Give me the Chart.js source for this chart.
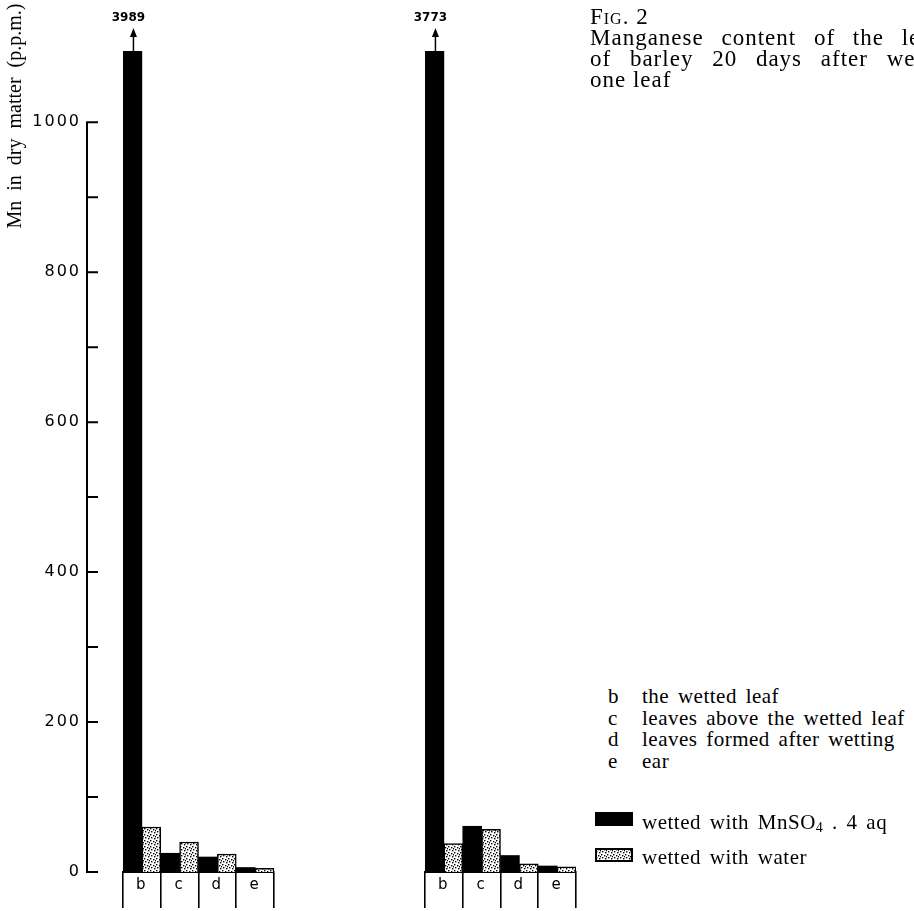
<!DOCTYPE html>
<html>
<head>
<meta charset="utf-8">
<script src="https://cdn.jsdelivr.net/npm/chart.js@4.4.1/dist/chart.umd.min.js"></script>
<style>
    html, body { margin: 0; padding: 0; background: #fff; }
    body { width: 914px; height: 911px; position: relative; overflow: hidden; }
    canvas { position: absolute; top: 0; }
    #plantA { left: 0; }
    #plantB { left: 400px; }
    .serif { font-family: "Liberation Serif", "Times New Roman", serif; color: #000; position: absolute; white-space: nowrap; }
    #caption { left: 590px; top: 6px; font-size: 23px; line-height: 21px; letter-spacing: 1px; }
    #caption .fig { font-variant: small-caps; }
    #caption .just1 { word-spacing: 11px; }
    #caption .just2 { word-spacing: 12px; }
    #keys { left: 608px; top: 686px; font-size: 21px; line-height: 21.5px; letter-spacing: 0.5px; word-spacing: 3px; }
    #keys span { display: inline-block; width: 34px; }
    .swatch { position: absolute; left: 595px; }
    .legendText { left: 642px; font-size: 21px; letter-spacing: 0.5px; word-spacing: 3px; }
    sub { font-size: 14px; vertical-align: -3px; }
</style>
</head>
<body>
<canvas id="plantA" width="300" height="911"></canvas>
<canvas id="plantB" width="200" height="911"></canvas>

<div id="caption" class="serif">
    <span class="fig">Fig.</span> 2<br>
    <span class="just1">Manganese content of the leaves</span><br>
    <span class="just2">of barley 20 days after wetting</span><br>
    one leaf
</div>

<div id="keys" class="serif">
    <span>b</span>the wetted leaf<br>
    <span>c</span>leaves above the wetted leaf<br>
    <span>d</span>leaves formed after wetting<br>
    <span>e</span>ear
</div>

<canvas id="swatchMn" class="swatch" width="38" height="14" style="top:812px"></canvas>
<div class="serif legendText" style="top:810px">wetted with MnSO<sub>4</sub> . 4 aq</div>
<canvas id="swatchWater" class="swatch" width="38" height="14" style="top:848px"></canvas>
<div class="serif legendText" style="top:845px">wetted with water</div>

<script>
const categories = ['b', 'c', 'd', 'e'];
const plantAMn = [3989, 25, 20, 6];
const plantAWater = [60, 40, 24, 5];
const plantBMn = [3773, 61, 22, 8];
const plantBWater = [38, 57, 11, 7];
const yTickValues = [0, 200, 400, 600, 800, 1000];
const yTitle = 'Mn in dry matter (p.p.m.)';
const yAxisTop = 1000;
const yMax = 1095;

function makeStipple(ctx) {
    const tile = document.createElement('canvas');
    tile.width = 6;
    tile.height = 6;
    const g = tile.getContext('2d');
    g.fillStyle = '#fff';
    g.fillRect(0, 0, 6, 6);
    g.fillStyle = '#000';
    [[0, 0], [3, 1], [1, 3], [4, 4], [5, 2]].forEach(p => g.fillRect(p[0], p[1], 1.4, 1.4));
    return ctx.createPattern(tile, 'repeat');
}

const figurePlugin = {
    id: 'figure',
    beforeDraw(chart) {
        chart.ctx.letterSpacing = '2px';
    },
    afterDraw(chart, args, opts) {
        const ctx = chart.ctx;
        const y = chart.scales.y;
        const area = chart.chartArea;
        ctx.save();
        ctx.letterSpacing = '0px';
        ctx.strokeStyle = '#000';
        ctx.fillStyle = '#000';

        if (opts.axis) {
            // detached y axis with minor ticks every 100, pointing right
            const ax = area.left - 36;
            ctx.lineWidth = 2;
            ctx.beginPath();
            ctx.moveTo(ax, y.getPixelForValue(0) + 1);
            ctx.lineTo(ax, y.getPixelForValue(yAxisTop) - 1);
            for (let v = 0; v <= yAxisTop; v += 100) {
                const py = y.getPixelForValue(v);
                ctx.moveTo(ax - 1, py);
                ctx.lineTo(ax + 11, py);
            }
            ctx.stroke();

            ctx.save();
            ctx.translate(21, 116);
            ctx.rotate(-Math.PI / 2);
            ctx.font = '20px "Liberation Serif"';
            ctx.wordSpacing = '5px';
            ctx.textAlign = 'center';
            ctx.textBaseline = 'alphabetic';
            ctx.fillText(yTitle, 0, 0);
            ctx.restore();
        }

        // broken bars: arrow + real value
        const values = chart.data.datasets[0].data;
        chart.getDatasetMeta(0).data.forEach((bar, i) => {
            if (values[i] <= y.max) return;
            const x = bar.x + 1;
            ctx.lineWidth = 1.5;
            ctx.beginPath();
            ctx.moveTo(x, area.top);
            ctx.lineTo(x, area.top - 16);
            ctx.stroke();
            ctx.beginPath();
            ctx.moveTo(x, area.top - 23);
            ctx.lineTo(x - 3.5, area.top - 14);
            ctx.lineTo(x + 3.5, area.top - 14);
            ctx.closePath();
            ctx.fill();
            ctx.font = 'bold 12px "DejaVu Sans"';
            ctx.textAlign = 'center';
            ctx.textBaseline = 'middle';
            ctx.fillText(String(values[i]), x - 5, area.top - 33);
        });
        ctx.restore();
    }
};

function drawPanel(id, mn, water, showAxis, pad) {
    const canvas = document.getElementById(id);
    const ctx = canvas.getContext('2d');
    return new Chart(ctx, {
        type: 'bar',
        data: {
            labels: categories,
            datasets: [{
                label: 'wetted with MnSO4 . 4 aq',
                data: mn,
                backgroundColor: '#000',
                borderWidth: 0
            }, {
                label: 'wetted with water',
                data: water,
                backgroundColor: makeStipple(ctx),
                borderColor: '#000',
                borderWidth: 1.5,
                borderSkipped: 'bottom'
            }]
        },
        options: {
            responsive: false,
            animation: false,
            barPercentage: 1,
            categoryPercentage: 1,
            layout: { padding: pad },
            plugins: {
                legend: { display: false },
                tooltip: { enabled: false },
                figure: { axis: showAxis }
            },
            scales: {
                x: {
                    offset: true,
                    grid: {
                        display: true,
                        offset: true,
                        drawOnChartArea: false,
                        drawTicks: true,
                        tickLength: 36,
                        color: '#000',
                        lineWidth: 1.6
                    },
                    border: { display: true, color: '#000', width: 2 },
                    ticks: {
                        color: '#000',
                        padding: -32,
                        maxRotation: 0,
                        font: { family: 'DejaVu Sans', size: 15 }
                    },
                    afterFit: s => { s.height = 39; }
                },
                y: {
                    display: showAxis,
                    min: 0,
                    max: yMax,
                    grid: { display: false, drawTicks: true, tickLength: 42, color: 'rgba(0,0,0,0)' },
                    border: { display: false },
                    ticks: {
                        padding: 0,
                        color: '#000',
                        font: { family: 'DejaVu Sans', size: 16 },
                        callback: v => String(v)
                    },
                    afterBuildTicks: s => {
                        s.ticks = yTickValues.map(v => ({ value: v }));
                    },
                    afterFit: s => { if (showAxis) s.width = 100; }
                }
            }
        },
        plugins: [figurePlugin]
    });
}

drawPanel('plantA', plantAMn, plantAWater, true, { top: 51, left: 23, right: 26, bottom: 0 });
drawPanel('plantB', plantBMn, plantBWater, false, { top: 51, left: 25, right: 24, bottom: 0 });

const mnCtx = document.getElementById('swatchMn').getContext('2d');
mnCtx.fillStyle = '#000';
mnCtx.fillRect(0, 0, 38, 14);
const waterCtx = document.getElementById('swatchWater').getContext('2d');
waterCtx.fillStyle = makeStipple(waterCtx);
waterCtx.fillRect(0, 0, 38, 14);
waterCtx.lineWidth = 2;
waterCtx.strokeStyle = '#000';
waterCtx.strokeRect(1, 1, 36, 12);
</script>
</body>
</html>
